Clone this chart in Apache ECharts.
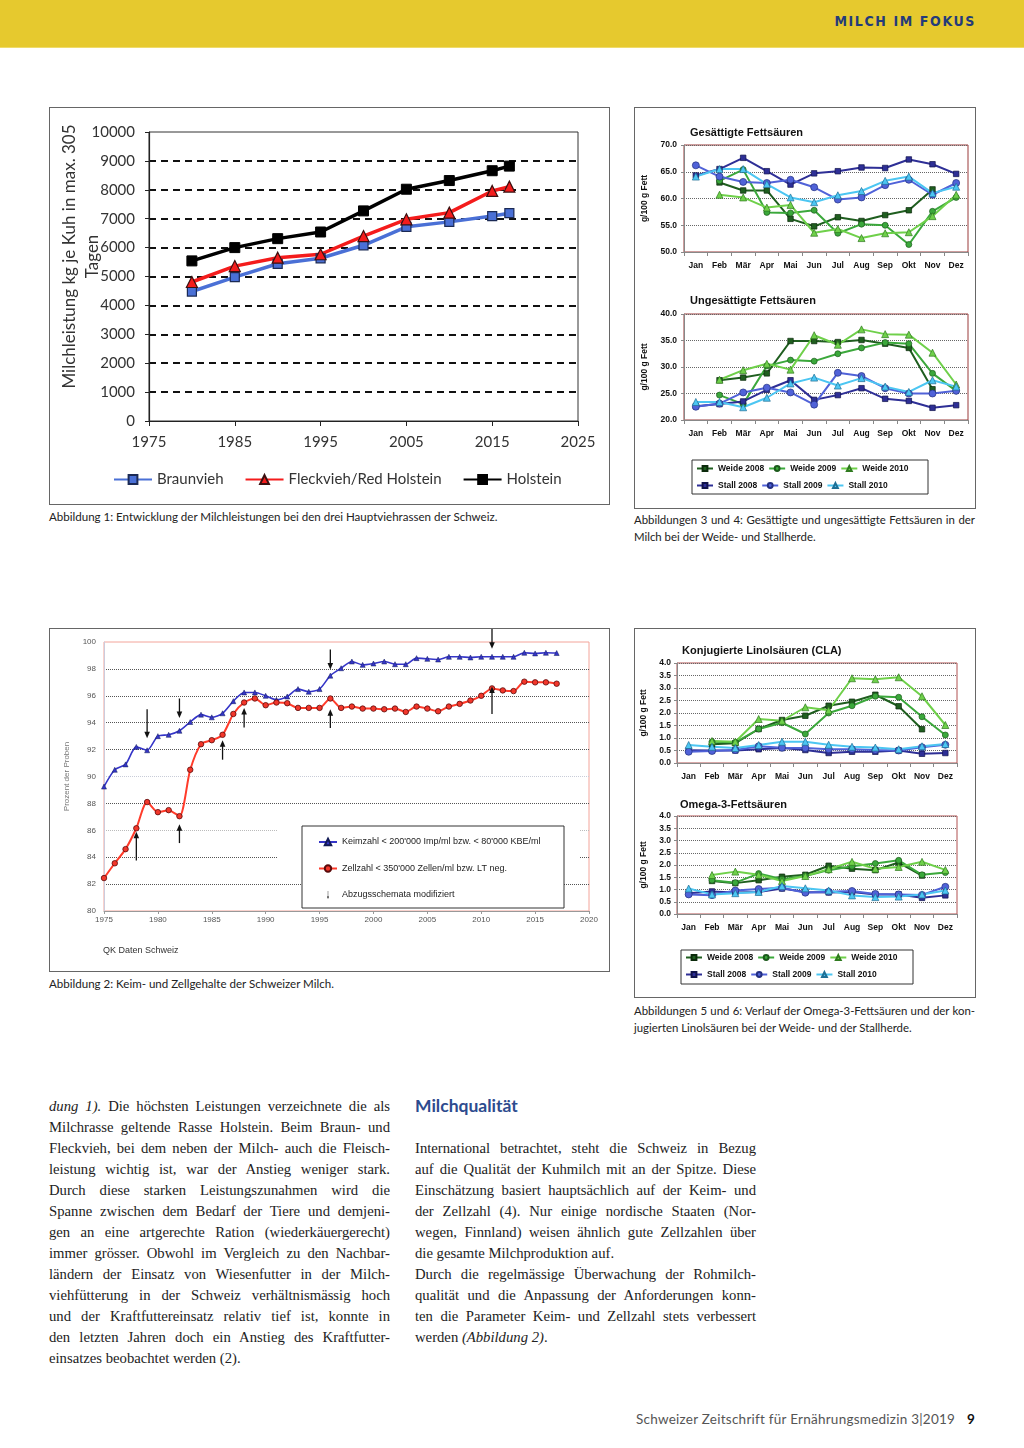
<!DOCTYPE html>
<html><head><meta charset="utf-8">
<script src="https://cdn.jsdelivr.net/npm/echarts@6/dist/echarts.min.js"></script>
<style>
body{margin:0;width:1024px;height:1448px;position:relative;background:#fff;overflow:hidden;font-family:Lato,sans-serif;color:#222}
.abs{position:absolute}
.box{position:absolute;border:1px solid #666;box-sizing:border-box;background:#fff}
.cap{position:absolute;font-family:Lato,sans-serif;font-size:11.55px;line-height:17px;color:#222}
.cap .j{text-align:justify;text-align-last:justify}
.col{position:absolute;width:341px;font-family:'Liberation Serif',serif;font-size:14.7px;word-spacing:-0.8px;line-height:21px;color:#222}
.col div{height:21px;text-align:justify;text-align-last:justify}
.col div.l{text-align:left;text-align-last:left;word-spacing:0}
</style></head><body>
<div class="abs" style="left:0;top:0;width:1024px;height:47px;background:#E6C92E;border-bottom:1px solid #EFDB6A"></div>
<div class="abs" style="right:48px;top:13px;font-family:'DejaVu Sans Condensed','DejaVu Sans';font-weight:bold;font-size:14px;letter-spacing:1.6px;color:#243B7A">MILCH IM FOKUS</div>

<div id="c1" class="box" style="left:49px;top:107px;width:561px;height:398px"></div>
<div class="cap" style="left:49px;top:508px">Abbildung 1: Entwicklung der Milchleistungen bei den drei Hauptviehrassen der Schweiz.</div>

<div id="c34" class="box" style="left:634px;top:107px;width:342px;height:402px"></div>
<div class="cap" style="left:634px;top:511px;width:341px;font-size:11.4px"><div class="j">Abbildungen 3 und 4: Gesättigte und ungesättigte Fettsäuren in der</div><div>Milch bei der Weide- und Stallherde.</div></div>

<div id="c2" class="box" style="left:49px;top:628px;width:561px;height:344px"></div>
<div class="cap" style="left:49px;top:975px">Abbildung 2: Keim- und Zellgehalte der Schweizer Milch.</div>

<div id="c56" class="box" style="left:634px;top:628px;width:342px;height:370px"></div>
<div class="cap" style="left:634px;top:1002px;width:341px;font-size:11.4px"><div class="j">Abbildungen 5 und 6: Verlauf der Omega-3-Fettsäuren und der kon-</div><div>jugierten Linolsäuren bei der Weide- und der Stallherde.</div></div>

<div class="col" style="left:49px;top:1096px">
<div><i>dung 1).</i> Die höchsten Leistungen verzeichnete die als</div>
<div>Milchrasse geltende Rasse Holstein. Beim Braun- und</div>
<div>Fleckvieh, bei dem neben der Milch- auch die Fleisch-</div>
<div>leistung wichtig ist, war der Anstieg weniger stark.</div>
<div>Durch diese starken Leistungszunahmen wird die</div>
<div>Spanne zwischen dem Bedarf der Tiere und demjeni-</div>
<div>gen an eine artgerechte Ration (wiederkäuergerecht)</div>
<div>immer grösser. Obwohl im Vergleich zu den Nachbar-</div>
<div>ländern der Einsatz von Wiesenfutter in der Milch-</div>
<div>viehfütterung in der Schweiz verhältnismässig hoch</div>
<div>und der Kraftfuttereinsatz relativ tief ist, konnte in</div>
<div>den letzten Jahren doch ein Anstieg des Kraftfutter-</div>
<div class="l">einsatzes beobachtet werden (2).</div>
</div>

<div class="abs" style="left:415px;top:1095px;font-family:Lato,sans-serif;font-weight:bold;font-size:17.5px;color:#2D4B8E">Milchqualität</div>
<div class="col" style="left:415px;top:1138px">
<div>International betrachtet, steht die Schweiz in Bezug</div>
<div>auf die Qualität der Kuhmilch mit an der Spitze. Diese</div>
<div>Einschätzung basiert hauptsächlich auf der Keim- und</div>
<div>der Zellzahl (4). Nur einige nordische Staaten (Nor-</div>
<div>wegen, Finnland) weisen ähnlich gute Zellzahlen über</div>
<div class="l">die gesamte Milchproduktion auf.</div>
<div>Durch die regelmässige Überwachung der Rohmilch-</div>
<div>qualität und die Anpassung der Anforderungen konn-</div>
<div>ten die Parameter Keim- und Zellzahl stets verbessert</div>
<div class="l">werden <i>(Abbildung 2)</i>.</div>
</div>

<div class="abs" style="left:636px;top:1411px;font-family:Lato,sans-serif;font-size:13.5px;color:#555;letter-spacing:0.25px">Schweizer Zeitschrift für Ernährungsmedizin 3|2019</div>
<div class="abs" style="left:967px;top:1411px;font-family:Lato,sans-serif;font-weight:bold;font-size:13.5px;color:#111">9</div>

<script>
// ---------- Abbildung 1 data ----------
const years1 = [1980, 1985, 1990, 1995, 2000, 2005, 2010, 2015, 2017];
const braunvieh = [4480, 4980, 5440, 5630, 6080, 6720, 6890, 7090, 7190];
const fleckvieh = [4810, 5360, 5650, 5770, 6400, 6980, 7210, 7960, 8110];
const holstein = [5540, 6000, 6310, 6540, 7270, 8020, 8320, 8660, 8820];

// ---------- Abbildung 2 data ----------
const years2 = [1975,1976,1977,1978,1979,1980,1981,1982,1983,1984,1985,1986,1987,1988,1989,1990,1991,1992,1993,1994,1995,1996,1997,1998,1999,2000,2001,2002,2003,2004,2005,2006,2007,2008,2009,2010,2011,2012,2013,2014,2015,2016,2017];
const keimzahl = [89.25,90.5,90.9,92.2,91.95,93.0,93.1,93.4,94.05,94.6,94.4,94.7,95.6,96.25,96.25,96.0,95.7,95.95,96.5,96.3,96.5,97.5,98.05,98.55,98.3,98.4,98.55,98.35,98.35,98.8,98.75,98.7,98.9,98.9,98.85,98.9,98.9,98.9,98.9,99.2,99.15,99.2,99.18];
const zellzahl = [82.45,83.55,84.6,86.15,88.1,87.35,87.5,87.05,90.5,92.4,92.7,93.1,94.65,95.5,95.8,95.3,95.5,95.45,95.1,95.1,95.1,95.8,95.1,95.2,95.05,95.05,95.0,95.05,94.8,95.2,95.05,94.85,95.2,95.4,95.65,96.0,96.55,96.4,96.35,97.05,97.0,97.0,96.9];
// arrows: [year, tail value, head value]
const arrowsDown = [[1979, 95.0, 92.85], [1982, 95.8, 94.35], [1996, 99.45, 97.95], [2011, 101.0, 99.5]];
const arrowsUp = [[1978, 83.75, 85.9], [1982, 85.05, 86.45], [1986, 91.25, 92.7], [1988, 93.65, 95.1], [1996, 93.6, 95.0], [2011, 94.65, 96.7]];

// ---------- Abbildungen 3-6 data ----------
const months = ['Jan','Feb','Mär','Apr','Mai','Jun','Jul','Aug','Sep','Okt','Nov','Dez'];
const groupNames = ['Weide 2008','Weide 2009','Weide 2010','Stall 2008','Stall 2009','Stall 2010'];
const gesW08 = [null,63.0,61.5,61.5,56.2,54.8,56.5,55.8,56.9,57.8,61.7,null];
const gesW09 = [null,63.3,65.4,57.4,57.3,57.8,53.5,55.2,55.0,51.4,57.6,60.2];
const gesW10 = [null,60.7,60.2,58.3,58.8,53.6,54.3,52.6,53.5,53.7,56.7,60.7];
const gesS08 = [64.3,65.5,67.6,65.1,62.6,64.7,65.1,65.8,65.7,67.3,66.4,64.6];
const gesS09 = [66.2,64.1,63.1,62.9,63.5,62.1,59.8,60.2,62.5,63.5,60.7,62.9];
const gesS10 = [64.1,65.5,65.5,62.7,60.2,59.3,60.6,61.4,63.3,64.1,61.0,62.2];

const ungW08 = [null,27.5,28.0,28.8,34.9,34.9,34.7,35.1,34.4,33.6,25.8,null];
const ungW09 = [null,24.7,23.0,30.2,31.3,31.1,32.5,33.6,34.6,34.4,28.8,25.5];
const ungW10 = [null,27.6,29.4,30.6,29.5,36.0,34.2,37.1,36.2,36.1,32.7,26.7];
const ungS08 = [22.6,23.0,23.5,25.7,27.5,23.8,24.7,26.0,24.0,23.6,22.3,22.8];
const ungS09 = [22.5,23.1,25.2,26.1,25.2,22.9,28.9,28.3,26.0,25.0,25.0,25.5];
const ungS10 = [23.4,23.4,22.4,24.2,26.9,28.0,26.5,27.9,26.3,25.3,27.5,26.3];

const claW08 = [null,0.75,0.79,1.36,1.72,1.89,2.29,2.45,2.73,2.27,1.35,null];
const claW09 = [null,0.85,0.83,1.36,1.61,1.16,2.0,2.29,2.67,2.63,1.85,1.12];
const claW10 = [null,0.88,0.85,1.76,1.69,2.23,2.11,3.39,3.35,3.43,2.67,1.52];
const claS08 = [0.51,0.5,0.5,0.55,0.6,0.52,0.4,0.45,0.45,0.5,0.37,0.4];
const claS09 = [0.45,0.48,0.52,0.67,0.61,0.6,0.55,0.55,0.52,0.5,0.63,0.73];
const claS10 = [0.72,0.65,0.6,0.72,0.85,0.85,0.73,0.65,0.62,0.55,0.67,0.76];

const omeW08 = [null,1.35,1.26,1.38,1.52,1.6,1.97,1.85,1.79,2.1,1.57,null];
const omeW09 = [null,1.38,1.28,1.65,1.42,1.55,1.79,1.95,2.06,2.19,1.6,1.69];
const omeW10 = [null,1.59,1.73,1.6,1.35,1.55,1.83,2.13,1.85,1.92,2.13,1.8];
const omeS08 = [0.85,0.92,0.88,0.9,1.04,0.9,0.88,0.9,0.8,0.8,0.66,0.76];
const omeS09 = [0.8,0.77,0.96,1.02,1.07,0.87,0.91,0.94,0.82,0.8,0.78,1.11];
const omeS10 = [1.04,0.8,0.85,0.9,1.14,1.05,0.96,0.76,0.69,0.71,0.8,0.96];

const plain = v => String(v);

// ================= Chart 1 =================
(function(){
  const ch = echarts.init(document.getElementById('c1'));
  const pairs = v => years1.map((y,i)=>[y,v[i]]);
  const dashColors = ['transparent','#111','#111','#111','#111','#111','#111','#111','#111','#111','transparent'];
  const f = 'Lato, sans-serif';
  ch.setOption({
    animation:false,
    grid:{left:99,top:24,width:429,height:289,show:true,borderColor:'#333',borderWidth:1,outerBoundsMode:'none'},
    legend:{left:63,top:364,padding:0,itemGap:21,itemWidth:38,itemHeight:11,textStyle:{fontSize:15,fontFamily:f,color:'#333'},
      data:['Braunvieh','Fleckvieh/Red Holstein','Holstein']},
    xAxis:{type:'value',min:1975,max:2025,interval:10,
      axisLine:{show:true,lineStyle:{color:'#222',width:1.2}},
      axisTick:{show:true,length:5,lineStyle:{color:'#222'}},
      axisLabel:{fontSize:15,fontFamily:f,color:'#333',margin:14,formatter:plain},
      splitLine:{show:false}},
    yAxis:{type:'value',min:0,max:10000,interval:1000,
      name:'Milchleistung kg je Kuh in max. 305\nTagen',nameLocation:'middle',nameRotate:90,nameGap:45,nameMoveOverlap:false,
      nameTextStyle:{fontSize:17,fontFamily:f,color:'#333',lineHeight:23,padding:[0,0,0,40]},
      axisLine:{show:true,lineStyle:{color:'#222',width:1.2}},
      axisTick:{show:true,length:4,lineStyle:{color:'#222'}},
      axisLabel:{fontSize:15,fontFamily:f,color:'#333',margin:14,formatter:plain},
      splitLine:{show:true,lineStyle:{type:[7,5],width:2,color:dashColors}}},
    series:[
      {type:'line',name:'Braunvieh',data:pairs(braunvieh),symbol:'rect',symbolSize:9,
        lineStyle:{color:'#4A70D6',width:3.5},itemStyle:{color:'#4A70D6',borderColor:'#1B2A55',borderWidth:1.2}},
      {type:'line',name:'Fleckvieh/Red Holstein',data:pairs(fleckvieh),symbol:'triangle',symbolSize:11,
        lineStyle:{color:'#F41C1C',width:3.5},itemStyle:{color:'#F41C1C',borderColor:'#3A1010',borderWidth:1.2}},
      {type:'line',name:'Holstein',data:pairs(holstein),symbol:'rect',symbolSize:10,
        lineStyle:{color:'#000',width:3.5},itemStyle:{color:'#000',borderColor:'#000',borderWidth:1}}
    ]
  });
})();

// ================= Chart 2 =================
(function(){
  const ch = echarts.init(document.getElementById('c2'));
  const pairs = v => years2.map((y,i)=>[y,v[i]]);
  const f = "'Liberation Sans', Arial, sans-serif";
  const gridColors = ['transparent','#555','#555','#bbb','#555','#c8ccd8','#555','#555','#555','#555','transparent'];
  function renderArrow(params, api){
    const x = api.value(0), a = api.value(1), b = api.value(2);
    const p1 = api.coord([x,a]), p2 = api.coord([x,b]);
    const dir = p2[1] > p1[1] ? 1 : -1;
    return {type:'group',children:[
      {type:'line',shape:{x1:p1[0],y1:p1[1],x2:p2[0],y2:p2[1]-dir*5},style:{stroke:'#111',lineWidth:1.3}},
      {type:'polygon',shape:{points:[[p2[0]-2.8,p2[1]-dir*6.5],[p2[0]+2.8,p2[1]-dir*6.5],[p2[0],p2[1]]]},style:{fill:'#111'}}
    ]};
  }
  const arrowIcon = 'path://M4,0 L6,0 L6,28 L10,28 L5,40 L0,28 L4,28 Z';
  ch.setOption({
    animation:false,
    grid:{left:54,top:13,width:485,height:269,show:true,borderColor:'#F3A49A',borderWidth:1,outerBoundsMode:'none'},
    graphic:[
      {type:'rect',z:3,shape:{x:228,y:190,width:302,height:52},style:{fill:'#fff'}},
      {type:'rect',z:3,shape:{x:252,y:197,width:262,height:82},style:{fill:'#fff',stroke:'#333',lineWidth:1}},
      {type:'text',left:53,top:317,style:{text:'QK Daten Schweiz',font:"9px 'Liberation Sans', Arial",fill:'#333'}}
    ],
    legend:{orient:'vertical',left:268,top:207,padding:0,itemGap:14.5,itemWidth:18,itemHeight:8,z:5,
      textStyle:{fontSize:9,fontFamily:f,color:'#222',lineHeight:12},
      data:[{name:'Keimzahl < 200\'000 Imp/ml bzw. < 80\'000 KBE/ml'},
            {name:'Zellzahl < 350\'000 Zellen/ml bzw. LT neg.'},
            {name:'Abzugsschemata modifiziert',icon:arrowIcon,itemStyle:{color:'#111'}}]},
    xAxis:{type:'value',min:1975,max:2020,interval:5,
      axisLine:{show:true,lineStyle:{color:'#999'}},
      axisTick:{show:true,length:3,lineStyle:{color:'#999'}},
      axisLabel:{fontSize:8,fontFamily:f,color:'#555',margin:5,formatter:plain},
      splitLine:{show:false}},
    yAxis:{type:'value',min:80,max:100,interval:2,
      name:'Prozent der Proben',nameLocation:'middle',nameRotate:90,nameGap:33,
      nameTextStyle:{fontSize:8,fontFamily:f,color:'#777'},
      axisLine:{show:true,lineStyle:{color:'#ccd'}},
      axisTick:{show:false},
      axisLabel:{fontSize:8,fontFamily:f,color:'#555',margin:8,formatter:plain},
      splitLine:{show:true,lineStyle:{type:'dotted',width:1,color:gridColors}}},
    series:[
      {type:'line',name:'Keimzahl < 200\'000 Imp/ml bzw. < 80\'000 KBE/ml',data:pairs(keimzahl),smooth:0.25,
        symbol:'triangle',symbolSize:5,lineStyle:{color:'#3535C8',width:1.6},
        itemStyle:{color:'#3535C8',borderColor:'#111a55',borderWidth:0.5}},
      {type:'line',name:'Zellzahl < 350\'000 Zellen/ml bzw. LT neg.',data:pairs(zellzahl),smooth:0.25,
        symbol:'circle',symbolSize:5.5,lineStyle:{color:'#FF3B2A',width:2},
        itemStyle:{color:'#F2362A',borderColor:'#5A0A0A',borderWidth:0.8}},
      {type:'custom',name:'Abzugsschemata modifiziert',renderItem:renderArrow,data:arrowsDown,clip:false,z:6,itemStyle:{color:'#111'}},
      {type:'custom',name:'Abzugsschemata modifiziert',renderItem:renderArrow,data:arrowsUp,clip:false,z:6,itemStyle:{color:'#111'}}
    ]
  });
})();

// ================= Charts 3-6 helpers =================
const grpStyle = {
  'Weide 2008':{color:'#1F5E1F',border:'#0b2a0b',symbol:'rect',size:5.5},
  'Weide 2009':{color:'#3BA83B',border:'#1c5a1c',symbol:'circle',size:6},
  'Weide 2010':{color:'#6FD04A',border:'#2f7a1f',symbol:'triangle',size:7},
  'Stall 2008':{color:'#2E2F96',border:'#10124a',symbol:'rect',size:5.5},
  'Stall 2009':{color:'#5062D8',border:'#222f80',symbol:'circle',size:7},
  'Stall 2010':{color:'#4CC6F2',border:'#1f6f95',symbol:'triangle',size:7}
};
const SF = "'Liberation Sans', Arial, sans-serif";
function mkSeries(name, data, gi){
  const s = grpStyle[name];
  return {type:'line',name,data,xAxisIndex:gi,yAxisIndex:gi,symbol:s.symbol,symbolSize:s.size,
    connectNulls:false,lineStyle:{color:s.color,width:2},itemStyle:{color:s.color,borderColor:s.border,borderWidth:0.7}};
}
function monthAxis(gi, margin){
  return {type:'category',gridIndex:gi,data:months,boundaryGap:true,
    axisLine:{show:true,lineStyle:{color:'#888'}},
    axisTick:{show:true,length:4,lineStyle:{color:'#888'}},
    axisLabel:{interval:0,fontSize:8.5,fontWeight:'bold',fontFamily:SF,color:'#111',margin:margin}};
}
function valAxis(gi, min, max, step, gap, margin){
  return {type:'value',gridIndex:gi,min,max,interval:step,
    name:'g/100 g Fett',nameLocation:'middle',nameRotate:90,nameGap:gap,
    nameTextStyle:{fontSize:8.5,fontWeight:'bold',fontFamily:SF,color:'#111'},
    axisLine:{show:true,lineStyle:{color:'#888'}},
    axisTick:{show:true,length:3,lineStyle:{color:'#888'}},
    axisLabel:{formatter:v=>v.toFixed(1),fontSize:8.5,fontWeight:'bold',fontFamily:SF,color:'#111',margin:margin},
    splitLine:{show:true,lineStyle:{type:'dotted',color:'#666',width:1}}};
}
function legends(left, top1, top2){
  const base = {left,padding:0,itemWidth:16,itemHeight:6,itemGap:4,
    textStyle:{fontSize:8.5,fontWeight:'bold',fontFamily:SF,color:'#111',width:54}};
  return [Object.assign({top:top1,data:groupNames.slice(0,3)},base),
          Object.assign({top:top2,data:groupNames.slice(3)},base)];
}
function titleItem(text,left,top){
  return {text,left,top,padding:0,textStyle:{fontSize:11,fontWeight:'bold',fontFamily:SF,color:'#111'}};
}

// ================= Charts 3 & 4 =================
(function(){
  const ch = echarts.init(document.getElementById('c34'));
  const gridBase = {left:49,width:284,show:true,borderColor:'#9A3B3B',borderWidth:1,outerBoundsMode:'none'};
  const ges = [gesW08,gesW09,gesW10,gesS08,gesS09,gesS10];
  const ung = [ungW08,ungW09,ungW10,ungS08,ungS09,ungS10];
  ch.setOption({
    animation:false,
    title:[titleItem('Gesättigte Fettsäuren',55,19),titleItem('Ungesättigte Fettsäuren',55,187)],
    grid:[Object.assign({top:37,height:107},gridBase),Object.assign({top:206,height:106},gridBase)],
    xAxis:[monthAxis(0,9),monthAxis(1,9)],
    yAxis:[valAxis(0,50,70,5,33,7),valAxis(1,20,40,5,33,7)],
    legend:legends(61,356,373),
    graphic:[{type:'rect',shape:{x:57,y:352,width:236,height:34},style:{fill:'none',stroke:'#333',lineWidth:1}}],
    series:[...groupNames.map((n,i)=>mkSeries(n,ges[i],0)),...groupNames.map((n,i)=>mkSeries(n,ung[i],1))]
  });
})();

// ================= Charts 5 & 6 =================
(function(){
  const ch = echarts.init(document.getElementById('c56'));
  const gridBase = {left:42,width:280,show:true,borderColor:'#B05050',borderWidth:1,outerBoundsMode:'none'};
  const cla = [claW08,claW09,claW10,claS08,claS09,claS10];
  const ome = [omeW08,omeW09,omeW10,omeS08,omeS09,omeS10];
  ch.setOption({
    animation:false,
    title:[titleItem('Konjugierte Linolsäuren (CLA)',47,16),titleItem('Omega-3-Fettsäuren',45,170)],
    grid:[Object.assign({top:34,height:100},gridBase),Object.assign({top:187,height:98},gridBase)],
    xAxis:[monthAxis(0,9),monthAxis(1,9)],
    yAxis:[valAxis(0,0,4,0.5,29,6),valAxis(1,0,4,0.5,29,6)],
    legend:legends(50,324,341),
    graphic:[{type:'rect',shape:{x:46,y:321,width:232,height:34},style:{fill:'none',stroke:'#333',lineWidth:1}}],
    series:[...groupNames.map((n,i)=>mkSeries(n,cla[i],0)),...groupNames.map((n,i)=>mkSeries(n,ome[i],1))]
  });
})();
</script>
</body></html>
